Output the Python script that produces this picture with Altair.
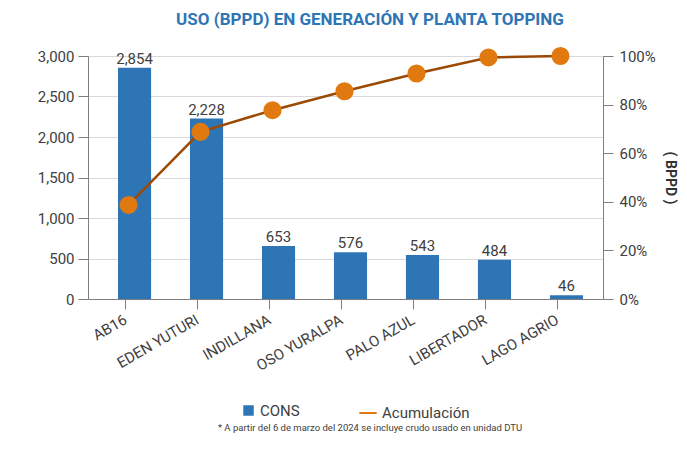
import altair as alt
import pandas as pd

categories = ["AB16", "EDEN YUTURI", "INDILLANA", "OSO YURALPA", "PALO AZUL", "LIBERTADOR", "LAGO AGRIO"]
cons = [2854, 2228, 653, 576, 543, 484, 46]
acum = [0.387, 0.688, 0.777, 0.855, 0.928, 0.994, 1.0]
title_text = "USO (BPPD) EN GENERACIÓN Y PLANTA TOPPING"
footnote = "* A partir del 6 de marzo del 2024 se incluye crudo usado en unidad DTU"

df = pd.DataFrame({
    "cat": categories,
    "cons": cons,
    "acum": acum,
    "s1": ["CONS"] * len(categories),
    "s2": ["Acumulación"] * len(categories),
})

FONT = "Roboto"
TXT = "#404040"
BLUE = "#2E75B6"
ORANGE = "#E07A10"

W, H = 515, 243

x = alt.X("cat:N", sort=categories, title=None,
          scale=alt.Scale(paddingInner=0.54, paddingOuter=0.347, align=0.42),
          axis=alt.Axis(labelAngle=-30, labelAlign="right", labelBaseline="middle",
                        labelFontSize=15, labelColor=TXT, labelPadding=9,
                        tickSize=10, tickColor="#7f7f7f", domainColor="#7f7f7f",
                        labelFont=FONT))

base = alt.Chart(df)

bars = base.mark_bar(xOffset=9).encode(
    x=x,
    y=alt.Y("cons:Q", title=None, scale=alt.Scale(domain=[0, 3000]),
            axis=alt.Axis(values=[0, 500, 1000, 1500, 2000, 2500, 3000], format=",d",
                          labelFontSize=15, labelColor=TXT, labelFont=FONT,
                          tickSize=10, labelPadding=4, tickColor="#7f7f7f",
                          domainColor="#7f7f7f", gridColor="#d9d9d9")),
    fill=alt.Fill("s1:N", scale=alt.Scale(domain=["CONS"], range=[BLUE]),
                  legend=alt.Legend(title=None, orient="none", legendX=153, legendY=347,
                                    symbolType="square", symbolSize=110,
                                    labelFontSize=15, labelColor=TXT, labelFont=FONT)),
)

labels = base.mark_text(dy=-9, xOffset=9, fontSize=15, color=TXT, font=FONT).encode(
    x=alt.X("cat:N", sort=categories),
    y=alt.Y("cons:Q"),
    text=alt.Text("cons:Q", format=","),
)

left = alt.layer(bars, labels)

line = base.mark_line(color="#9A4A05", strokeWidth=2.5, xOffset=3).encode(
    x=alt.X("cat:N", sort=categories),
    y=alt.Y("acum:Q", title="( BPPD )", scale=alt.Scale(domain=[0, 1]),
            axis=alt.Axis(orient="right", format=".0%", values=[0, 0.2, 0.4, 0.6, 0.8, 1.0],
                          labelFontSize=15, labelColor=TXT, labelFont=FONT,
                          tickSize=10, labelPadding=6, tickColor="#7f7f7f",
                          domainColor="#7f7f7f", grid=False,
                          titleFontSize=14, titleFont=FONT, titleFontWeight="bold",
                          titleColor="#333333", titlePadding=7)),
)

points = base.mark_circle(size=260, opacity=1, fill=ORANGE, xOffset=3).encode(
    x=alt.X("cat:N", sort=categories),
    y=alt.Y("acum:Q"),
    stroke=alt.Stroke("s2:N", scale=alt.Scale(domain=["Acumulación"], range=[ORANGE]),
                      legend=alt.Legend(title=None, orient="none", legendX=270, legendY=347,
                                        symbolType="stroke", symbolStrokeWidth=2, symbolSize=300,
                                        labelFontSize=15, labelColor=TXT, labelFont=FONT)),
)

right = alt.layer(line, points)

title_df = pd.DataFrame({"t": [title_text]})
title = alt.Chart(title_df).mark_text(
    fontSize=17, font=FONT, fontWeight="bold", color=BLUE, align="center", baseline="middle"
).encode(text="t:N", x=alt.value(282), y=alt.value(-36))

note = alt.Chart(pd.DataFrame({"t": [footnote]})).mark_text(
    fontSize=9.5, color=TXT, font=FONT, align="center"
).encode(text="t:N", x=alt.value(282), y=alt.value(372))

border = alt.Chart(pd.DataFrame({"t": [1]})).mark_rule(color="#5B9BD5", strokeWidth=2.5).encode(
    x=alt.value(-82), y=alt.value(-60), y2=alt.value(400)
)

chart = alt.layer(left, right, title, note, border).resolve_scale(
    y="independent"
).properties(
    width=W, height=H,
    autosize="none",
    padding={"left": 80, "top": 48, "right": 76, "bottom": 143},
).configure_view(stroke=None)

chart.save("out.html", embed_options={"renderer": "svg", "actions": False})
